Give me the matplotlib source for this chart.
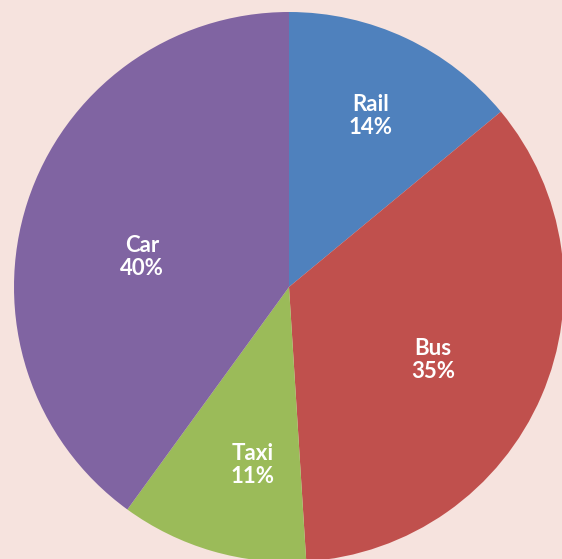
import matplotlib.pyplot as plt

modes = ["Rail", "Bus", "Taxi", "Car"]
shares = [14, 35, 11, 40]
colors = ["#4F81BD", "#C0504D", "#9BBB59", "#8064A2"]
# label centres, in units of the pie radius
label_x = [0.295, 0.524, -0.131, -0.535]
label_y = [0.622, -0.265, -0.647, 0.109]

bg = "#F6E3DE"
W, H = 562, 559
cx, cy, R = 289, 287, 275

fig = plt.figure(figsize=(W / 100, H / 100), dpi=100, facecolor=bg)
ax = fig.add_axes([0, 0, 1, 1])
ax.set_facecolor(bg)

ax.pie(shares, colors=colors, startangle=90, counterclock=False, radius=1,
       wedgeprops=dict(linewidth=0))

for name, val, x, y in zip(modes, shares, label_x, label_y):
    ax.text(x, y, f"{name}\n{val}%", ha="center", va="center", color="white",
            fontsize=16, fontweight="bold", family="Lato", linespacing=1.15)

ax.set_xlim(-cx / R, (W - cx) / R)
ax.set_ylim(-(H - cy) / R, cy / R)
ax.set_aspect("auto")
ax.axis("off")

fig.savefig("out.png", dpi=100, facecolor=bg)
